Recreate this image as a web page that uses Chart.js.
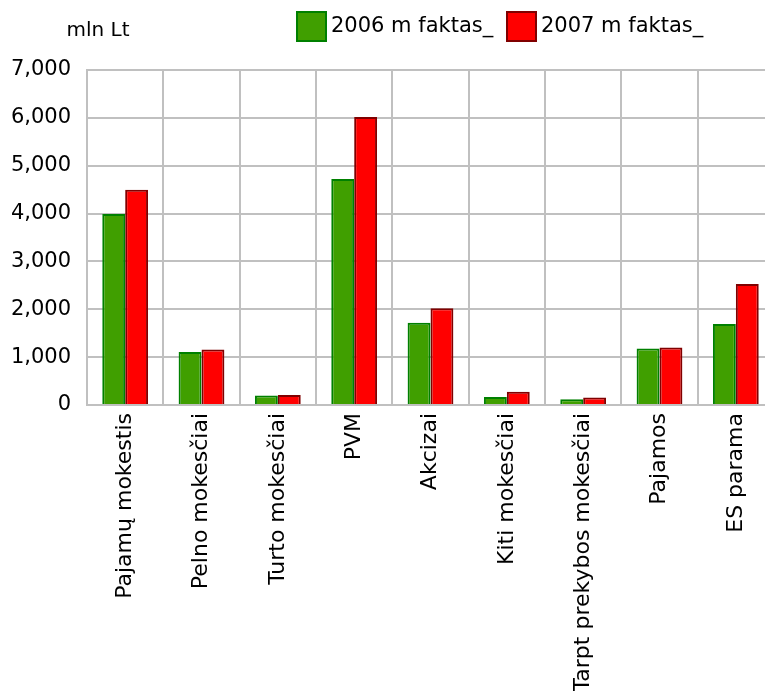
<!DOCTYPE html>
<html>
<head>
<meta charset="utf-8">
<script src="https://cdn.jsdelivr.net/npm/chart.js@4.4.1/dist/chart.umd.min.js"></script>
<style>
  html, body { margin: 0; padding: 0; background: #fff; overflow: hidden; }
  #wrap { width: 780px; height: 691px; }
</style>
</head>
<body>
<div id="wrap"><canvas id="bar-chart"></canvas></div>
<script>
const categories = [
  "Pajamų mokestis",
  "Pelno mokesčiai",
  "Turto mokesčiai",
  "PVM",
  "Akcizai",
  "Kiti mokesčiai",
  "Tarpt prekybos mokesčiai",
  "Pajamos",
  "ES parama",
];
const seriesNames = ["2006 m faktas_", "2007 m faktas_"];
const values2006 = [3990, 1110, 200, 4720, 1720, 165, 120, 1180, 1690];
const values2007 = [4500, 1160, 210, 6020, 2020, 275, 155, 1200, 2530];
const yTicks = [0, 1000, 2000, 3000, 4000, 5000, 6000, 7000];
const unitLabel = "mln Lt";

const FONT = "'DejaVu Sans', Verdana, sans-serif";

// legend + unit label drawn by hand so they sit where the original has them
const legendPlugin = {
  id: "manualLegend",
  afterDraw(chart) {
    const ctx = chart.ctx;
    ctx.save();
    ctx.font = "20px " + FONT;
    ctx.fillStyle = "#000";
    ctx.textAlign = "center";
    ctx.textBaseline = "middle";
    ctx.fillText(unitLabel, 98, 31);

    const starts = [296, 506];
    ctx.font = "21px " + FONT;
    ctx.textAlign = "left";
    chart.data.datasets.forEach((ds, i) => {
      const x = starts[i];
      ctx.fillStyle = ds.backgroundColor;
      ctx.fillRect(x, 11, 31, 31);
      ctx.strokeStyle = ds.borderColor;
      ctx.lineWidth = 2;
      ctx.strokeRect(x + 1, 12, 29, 29);
      ctx.fillStyle = "#000";
      ctx.fillText(ds.label, x + 35, 27);
    });
    ctx.restore();
  },
};

const barChart = new Chart("bar-chart", {
  type: "bar",
  data: {
    labels: categories,
    datasets: [
      {
        label: seriesNames[0],
        data: values2006,
        backgroundColor: "#409f00",
        borderColor: "#008000",
        borderWidth: 2,
        borderSkipped: "bottom",
      },
      {
        label: seriesNames[1],
        data: values2007,
        backgroundColor: "#ff0000",
        borderColor: "#800000",
        borderWidth: 2,
        borderSkipped: "bottom",
      },
    ],
  },
  options: {
    responsive: true,
    maintainAspectRatio: false,
    animation: false,
    layout: { padding: { top: 70, right: 6, left: 0, bottom: 0 } },
    datasets: { bar: { categoryPercentage: 0.6, barPercentage: 1 } },
    plugins: {
      legend: { display: false },
      tooltip: { enabled: false },
    },
    scales: {
      x: {
        grid: { color: "#c0c0c0", lineWidth: 2, drawTicks: false },
        border: { color: "#c0c0c0", width: 2 },
        ticks: {
          color: "#000",
          font: { family: FONT, size: 22 },
          minRotation: 90,
          maxRotation: 90,
          padding: 8,
          autoSkip: false,
        },
        afterFit(scale) { scale.height = 286; },
      },
      y: {
        min: 0,
        max: yTicks[yTicks.length - 1],
        grid: { color: "#c0c0c0", lineWidth: 2, drawTicks: false },
        border: { color: "#c0c0c0", width: 2 },
        afterBuildTicks(scale) { scale.ticks = yTicks.map(v => ({ value: v })); },
        ticks: {
          color: "#000",
          font: { family: FONT, size: 21 },
          padding: 16,
          callback: v => v.toLocaleString("en-US"),
        },
        afterFit(scale) { scale.width = 87; },
      },
    },
  },
  plugins: [legendPlugin],
});
</script>
</body>
</html>
